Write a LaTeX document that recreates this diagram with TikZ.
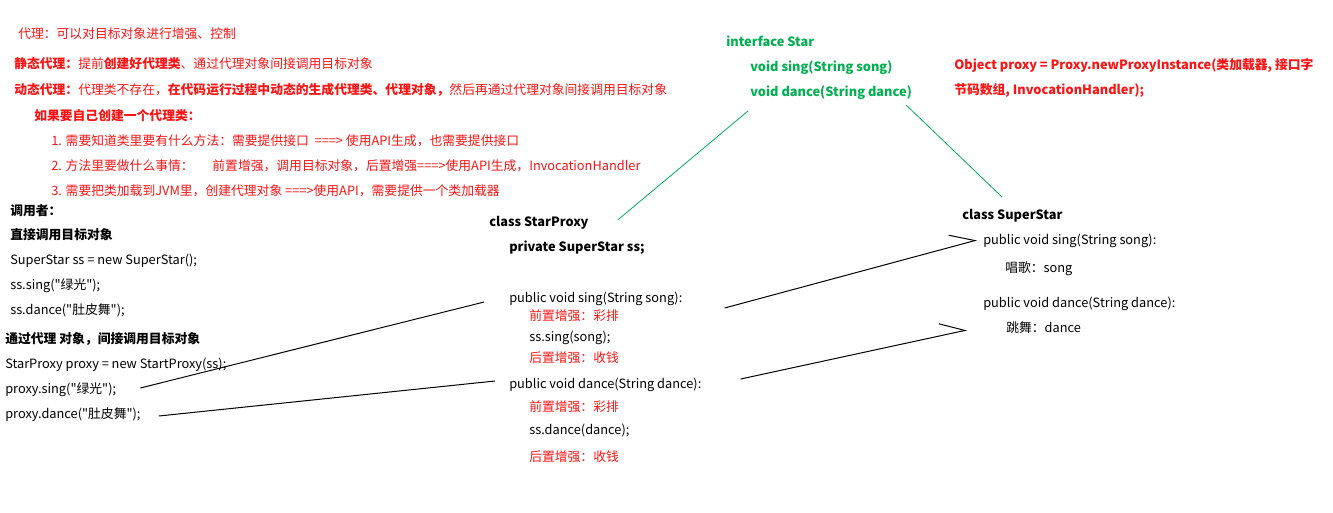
\documentclass[tikz,border=0pt]{standalone}
\usepackage{fontspec}
\setmainfont{Noto Sans CJK SC}[Ligatures=TeXOff]
\usetikzlibrary{arrows.meta}
\definecolor{notered}{RGB}{250,20,20}
\definecolor{notegreen}{RGB}{0,176,80}

\begin{document}
\begin{tikzpicture}[x=0.75pt, y=-0.75pt,
    txt/.style={anchor=base west, inner sep=0pt, font=\fontsize{9.6}{11}\selectfont},
    btxt/.style={txt, font=\fontsize{9.6}{11}\selectfont\bfseries},
    hot/.style={txt, text=notered},
    bhot/.style={btxt, text=notered},
    iface/.style={btxt, text=notegreen},
    link/.style={line width=0.75pt},
    glink/.style={line width=0.6pt, notegreen},
    barb/.style={link, -{Straight Barb[harpoon, length=18pt, width=18pt]}}]
    \useasboundingbox (0,0) rectangle (1333,512);

    % --- 说明 (上左) ---
    \node[hot] (def) at (18,38) {代理：可以对目标对象进行增强、控制};
    \node[hot] (static) at (14,68) {{\bfseries 静态代理：}提前{\bfseries 创建好代理类}、通过代理对象间接调用目标对象};
    \node[hot] (dynamic) at (14,94) {{\bfseries 动态代理：}代理类不存在，{\bfseries 在代码运行过程中动态的生成代理类、代理对象，}然后再通过代理对象间接调用目标对象};
    \node[bhot] (self) at (34,120) {如果要自己创建一个代理类：};
    \node[hot] (stepa) at (51,145) {1. 需要知道类里要有什么方法：需要提供接口\ \ ===> 使用API生成，也需要提供接口};
    \node[hot] (stepb) at (51,170) {2. 方法里要做什么事情：\hspace{14pt}前置增强，调用目标对象，后置增强===>使用API生成，InvocationHandler};
    \node[hot] (stepc) at (51,195) {3. 需要把类加载到JVM里，创建代理对象 ===>使用API，需要提供一个类加载器};

    % --- 调用者 ---
    \node[btxt] (caller) at (10,215) {调用者：};
    \node[btxt] (direct) at (10,239) {直接调用目标对象};
    \node[txt] (newss) at (10,264) {SuperStar ss = new SuperStar();};
    \node[txt] (sssing) at (10,289) {ss.sing("绿光");};
    \node[txt] (ssdance) at (10,314) {ss.dance("肚皮舞");};
    \node[btxt] (viaproxy) at (5,343) {通过代理 对象，间接调用目标对象};
    \node[txt] (newproxy) at (5,368) {StarProxy proxy = new StartProxy(ss);};
    \node[txt] (psing) at (5,393) {proxy.sing("绿光");};
    \node[txt] (pdance) at (5,418) {proxy.dance("肚皮舞");};

    % --- 代理类 ---
    \node[btxt] (cproxy) at (489,226) {class StarProxy};
    \node[btxt] (field) at (509,251) {private SuperStar ss;};
    \node[txt] (xsing) at (509,302) {public void sing(String song):};
    \node[hot] (presing) at (529,320) {前置增强：彩排};
    \node[txt] (callsing) at (529,341) {ss.sing(song);};
    \node[hot] (postsing) at (529,362) {后置增强：收钱};
    \node[txt] (xdance) at (509,388) {public void dance(String dance):};
    \node[hot] (predance) at (529,411) {前置增强：彩排};
    \node[txt] (calldance) at (529,434) {ss.dance(dance);};
    \node[hot] (postdance) at (529,461) {后置增强：收钱};

    % --- 接口 ---
    \node[iface] (istar) at (726,46) {interface Star};
    \node[iface] (isong) at (750,71) {void sing(String song)};
    \node[iface] (idance) at (750,96) {void dance(String dance)};

    % --- API ---
    \node[bhot] (apia) at (954,69) {Object proxy = Proxy.newProxyInstance(类加载器, 接口字};
    \node[bhot] (apib) at (954,94) {节码数组, InvocationHandler);};

    % --- 目标类 ---
    \node[btxt] (csuper) at (962,219) {class SuperStar};
    \node[txt] (tsing) at (983,244) {public void sing(String song):};
    \node[txt] (tsingdo) at (1005,272) {唱歌：song};
    \node[txt] (tdance) at (983,307) {public void dance(String dance):};
    \node[txt] (tdancedo) at (1006,332) {跳舞：dance};

    % 连线
    \draw[glink] ([shift={(-2,15)}]idance.base west) -- ([shift={(29,-6)}]cproxy.base east);
    \draw[glink] ([shift={(-6,9)}]idance.base east) -- ([shift={(40,-22)}]csuper.base west);
    \draw[link] ([shift={(24,-5)}]psing.base east) -- ([shift={(-25,0)}]xsing.base west);
    \draw[link] ([shift={(18,-2)}]pdance.base east) -- ([shift={(-14,-7)}]xdance.base west);
    \draw[barb] ([shift={(42,6)}]xsing.base east) -- ([shift={(-6,-4)}]tsing.base west);
    \draw[barb] ([shift={(39,-9)}]xdance.base east) -- ([shift={(-39,-2)}]tdancedo.base west);
\end{tikzpicture}
\end{document}
